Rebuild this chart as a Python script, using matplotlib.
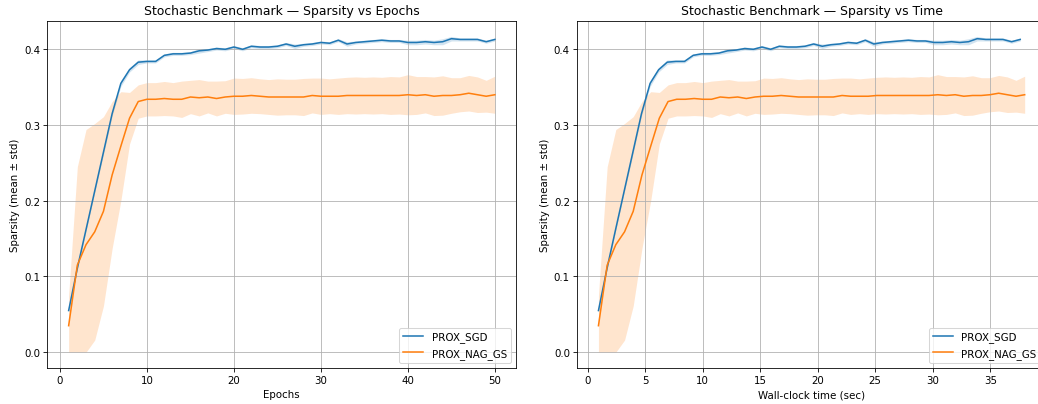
import numpy as np
import matplotlib
matplotlib.use("Agg")
import matplotlib.pyplot as plt

epochs = list(range(1, 51))

# wall-clock time (sec) at each epoch
time_sgd = [0.95, 1.70, 2.44, 3.19, 3.94, 4.69, 5.44, 6.18, 6.93, 7.68,
            8.43, 9.18, 9.92, 10.67, 11.42, 12.17, 12.92, 13.66, 14.41, 15.16,
            15.91, 16.66, 17.40, 18.15, 18.90, 19.65, 20.40, 21.14, 21.89, 22.64,
            23.39, 24.14, 24.88, 25.63, 26.38, 27.13, 27.88, 28.62, 29.37, 30.12,
            30.87, 31.62, 32.36, 33.11, 33.86, 34.61, 35.36, 36.10, 36.85, 37.60]
time_nag = [0.95, 1.71, 2.46, 3.22, 3.97, 4.73, 5.49, 6.24, 7.00, 7.75,
            8.51, 9.27, 10.02, 10.78, 11.53, 12.29, 13.05, 13.80, 14.56, 15.31,
            16.07, 16.83, 17.58, 18.34, 19.09, 19.85, 20.61, 21.36, 22.12, 22.87,
            23.63, 24.39, 25.14, 25.90, 26.65, 27.41, 28.17, 28.92, 29.68, 30.43,
            31.19, 31.95, 32.70, 33.46, 34.21, 34.97, 35.73, 36.48, 37.24, 37.99]

sgd_mean = [0.055, 0.111, 0.162, 0.213, 0.264, 0.315, 0.355, 0.373, 0.383, 0.384,
            0.384, 0.392, 0.394, 0.394, 0.395, 0.398, 0.399, 0.401, 0.400, 0.403,
            0.400, 0.404, 0.403, 0.403, 0.404, 0.407, 0.404, 0.406, 0.407, 0.409,
            0.408, 0.412, 0.407, 0.409, 0.410, 0.411, 0.412, 0.411, 0.411, 0.409,
            0.409, 0.410, 0.409, 0.410, 0.414, 0.413, 0.413, 0.413, 0.410, 0.413]
sgd_std = [0.002, 0.002, 0.002, 0.002, 0.003, 0.003, 0.004, 0.003, 0.003, 0.002,
           0.002, 0.002, 0.002, 0.002, 0.002, 0.003, 0.002, 0.002, 0.002, 0.002,
           0.002, 0.002, 0.002, 0.002, 0.002, 0.002, 0.003, 0.002, 0.002, 0.002,
           0.002, 0.002, 0.003, 0.002, 0.002, 0.002, 0.002, 0.002, 0.002, 0.003,
           0.003, 0.003, 0.003, 0.004, 0.003, 0.002, 0.002, 0.002, 0.002, 0.002]

nag_mean = [0.035, 0.115, 0.142, 0.159, 0.186, 0.234, 0.272, 0.309, 0.331, 0.334,
            0.334, 0.335, 0.334, 0.334, 0.337, 0.336, 0.337, 0.335, 0.337, 0.338,
            0.338, 0.339, 0.338, 0.337, 0.337, 0.337, 0.337, 0.337, 0.339, 0.338,
            0.338, 0.338, 0.339, 0.339, 0.339, 0.339, 0.339, 0.339, 0.339, 0.340,
            0.339, 0.340, 0.338, 0.339, 0.339, 0.340, 0.342, 0.340, 0.338, 0.340]
nag_std = [0.040, 0.130, 0.152, 0.143, 0.125, 0.097, 0.072, 0.034, 0.022, 0.022,
           0.022, 0.0225, 0.022, 0.024, 0.022, 0.024, 0.021, 0.023, 0.0215, 0.024,
           0.0235, 0.0235, 0.023, 0.023, 0.024, 0.0235, 0.0235, 0.0245, 0.023, 0.024,
           0.023, 0.024, 0.024, 0.0245, 0.024, 0.0245, 0.024, 0.025, 0.0245, 0.0265,
           0.025, 0.024, 0.0255, 0.026, 0.0235, 0.0225, 0.0235, 0.0235, 0.021, 0.0245]

series = [
    ("PROX_SGD", np.array(sgd_mean), np.array(sgd_std), time_sgd),
    ("PROX_NAG_GS", np.array(nag_mean), np.array(nag_std), time_nag),
]

fig, axes = plt.subplots(1, 2, figsize=(14, 5.46), dpi=1038 / 14)

for ax, xkind in zip(axes, ["epochs", "time"]):
    for name, m, s, t in series:
        x = epochs if xkind == "epochs" else t
        line, = ax.plot(x, m, label=name)
        ax.fill_between(x, np.clip(m - s, 0, None), m + s,
                        color=line.get_color(), alpha=0.2, linewidth=0)
    ax.grid(True)
    ax.set_ylabel("Sparsity (mean ± std)")
    ax.legend(loc="lower right")

axes[0].set_title("Stochastic Benchmark — Sparsity vs Epochs")
axes[0].set_xlabel("Epochs")
axes[1].set_title("Stochastic Benchmark — Sparsity vs Time")
axes[1].set_xlabel("Wall-clock time (sec)")

# the original picture is cut off at the right edge
plt.subplots_adjust(left=0.0456, right=1.0077, bottom=0.089, top=0.947, wspace=0.13)
plt.savefig("out.png")
